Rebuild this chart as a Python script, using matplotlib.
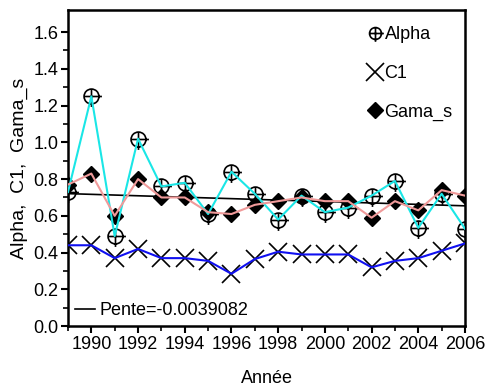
import matplotlib
matplotlib.use("Agg")
import matplotlib.pyplot as plt
import numpy as np
from matplotlib.lines import Line2D
from matplotlib.path import Path

plt.rcParams['font.family'] = ['Liberation Sans', 'DejaVu Sans']

# data
years = np.arange(1989, 2007)
alpha = [0.73, 1.25, 0.49, 1.02, 0.76, 0.78, 0.61, 0.84, 0.72, 0.58,
         0.71, 0.62, 0.645, 0.71, 0.79, 0.535, 0.72, 0.53]
c1 = [0.44, 0.44, 0.37, 0.42, 0.37, 0.37, 0.355, 0.285, 0.365, 0.405,
      0.39, 0.39, 0.39, 0.32, 0.355, 0.37, 0.41, 0.45]
gama_s = [0.77, 0.83, 0.60, 0.80, 0.70, 0.70, 0.62, 0.61, 0.66, 0.68,
          0.70, 0.68, 0.68, 0.59, 0.68, 0.63, 0.74, 0.71]
pente = -0.0039082
pente_label = "Pente=-0.0039082"

# trend line through the mean of Gama_s with the given slope
g = np.array(gama_s)
trend = g.mean() + pente * (years - years.mean())

# circle with a cross that sticks out to the right and below
circ = Path.unit_circle()
cross = Path([(-1, 0), (1.4, 0), (0, 1), (0, -1.4)],
             [Path.MOVETO, Path.LINETO, Path.MOVETO, Path.LINETO])
oplus = Path.make_compound_path(circ, cross)

fig = plt.figure(figsize=(4.87, 3.92), dpi=100)
ax = fig.add_axes([0.1396, 0.168, 0.8152, 0.8065])

# markers first, lines drawn over them
ax.plot(years, alpha, linestyle='none', marker=oplus, ms=15, mfc='none',
        mec='black', mew=1.2, zorder=2)
ax.plot(years, c1, linestyle='none', marker='x', ms=13,
        mec='black', mew=1.2, zorder=2)
ax.plot(years, gama_s, linestyle='none', marker='D', ms=8.5,
        mfc='black', mec='black', zorder=2)

ax.plot(years, trend, color='black', lw=1.2, zorder=3)
ax.plot(years, alpha, color='#1AE6E6', lw=1.5, zorder=4)
ax.plot(years, c1, color='#1010F0', lw=1.5, zorder=4)
ax.plot(years, gama_s, color='#F09A9A', lw=1.5, zorder=4)

ax.set_xlim(1989, 2006)
ax.set_ylim(0, 1.72)
ax.set_xticks(np.arange(1990, 2007, 2))
ax.set_xticks(np.arange(1989, 2007, 2), minor=True)
ax.set_yticks(np.arange(0, 1.61, 0.2))
ax.set_yticks(np.arange(0.1, 1.61, 0.2), minor=True)
ax.set_yticklabels([f"{v:.1f}" for v in np.arange(0, 1.61, 0.2)])
ax.tick_params(axis='both', which='major', labelsize=13, length=5, width=1.5, pad=2)
ax.tick_params(axis='both', which='minor', length=3.5, width=1.2)
for s in ax.spines.values():
    s.set_linewidth(1.8)

ax.set_xlabel('Année', fontsize=13, labelpad=12)
ax.set_ylabel('Alpha,  C1,  Gama_s', fontsize=14, labelpad=4)

h_alpha = Line2D([], [], ls='none', marker=oplus, ms=12, mfc='none', mec='black', mew=1.2)
h_c1 = Line2D([], [], ls='none', marker='x', ms=13, mec='black', mew=1.2)
h_gama = Line2D([], [], ls='none', marker='D', ms=8.5, mfc='black', mec='black')
leg1 = ax.legend([h_alpha, h_c1, h_gama], ['Alpha', 'C1', 'Gama_s'],
                 loc='upper right', bbox_to_anchor=(0.963, 0.974),
                 bbox_transform=fig.transFigure, frameon=False,
                 fontsize=13, handlelength=0.8, handletextpad=0.15,
                 labelspacing=1.2)
ax.add_artist(leg1)

h_trend = Line2D([], [], color='black', lw=1.2)
ax.legend([h_trend], [pente_label], loc='lower left', frameon=False,
          fontsize=13, handlelength=1.1, handletextpad=0.25,
          borderaxespad=0.0, bbox_to_anchor=(0.0, 0.0))

fig.savefig('out.png', dpi=100)
